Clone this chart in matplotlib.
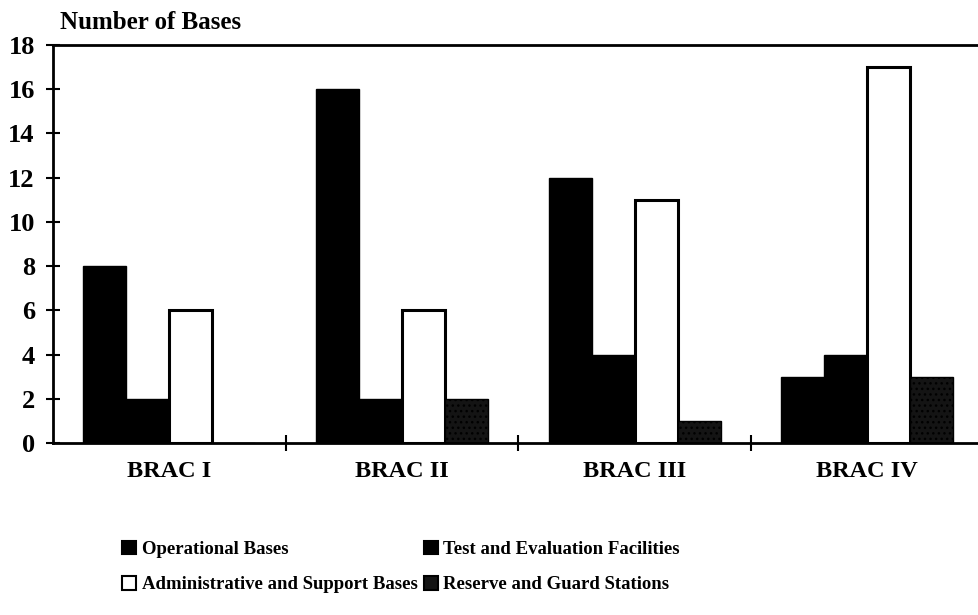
import numpy as np
import matplotlib.pyplot as plt
from matplotlib.patches import Patch

# data
rounds = ["BRAC I", "BRAC II", "BRAC III", "BRAC IV"]
operational = [8, 16, 12, 3]
test_eval = [2, 2, 4, 4]
admin_support = [6, 6, 11, 17]
reserve_guard = [0, 2, 1, 3]

series_names = ["Operational Bases", "Test and Evaluation Facilities",
                "Administrative and Support Bases", "Reserve and Guard Stations"]
yticks = [0, 2, 4, 6, 8, 10, 12, 14, 16, 18]

plt.rcParams['font.family'] = ['Liberation Serif', 'DejaVu Serif']
plt.rcParams['font.weight'] = 'bold'

fig = plt.figure(figsize=(9.79, 6.15), dpi=100)
ax = fig.add_axes([0.054, 0.2797, 0.946, 0.6471])

x = np.arange(len(rounds))
w = 0.185
styles = [
    dict(facecolor="black", edgecolor="black"),
    dict(facecolor="black", edgecolor="black"),
    dict(facecolor="white", edgecolor="black", linewidth=2.2),
    dict(facecolor="#141414", edgecolor="black", hatch="..."),
]
data = [operational, test_eval, admin_support, reserve_guard]
for i, (vals, st) in enumerate(zip(data, styles)):
    ax.bar(x + (i - 1.5) * w, vals, width=w, **st)

ax.set_xlim(-0.5, 3.48)
ax.set_ylim(0, 18)
ax.set_yticks(yticks)
ax.set_yticklabels([str(t) for t in yticks], fontsize=19, fontweight='bold')
ax.tick_params(axis='y', direction='inout', length=10, width=1.5, pad=8)

# group boundary ticks (major) and category labels (minor)
ax.set_xticks([0.5, 1.5, 2.5])
ax.set_xticklabels([])
ax.tick_params(axis='x', which='major', direction='inout', length=12, width=1.5)
ax.set_xticks(x, minor=True)
ax.set_xticklabels(rounds, minor=True, fontsize=17.5, fontweight='bold')
ax.tick_params(axis='x', which='minor', length=0, pad=13)

for s in ["left", "bottom", "top"]:
    ax.spines[s].set_linewidth(2)
ax.spines["right"].set_visible(False)

fig.text(0.061, 0.953, "Number of Bases", fontsize=18, fontweight='bold')

handles = [Patch(facecolor=st["facecolor"], edgecolor="black", linewidth=1.5)
           for st in styles]
# legend fills column by column; reorder so rows read op/test, admin/reserve
order = [0, 2, 1, 3]
fig.legend([handles[i] for i in order], [series_names[i] for i in order],
           ncol=2, loc="upper left", bbox_to_anchor=(0.125, 0.121),
           frameon=False, fontsize=13.5, handlelength=0.75, handleheight=0.75,
           handletextpad=0.3, columnspacing=0.3, labelspacing=0.95,
           borderaxespad=0, borderpad=0)

fig.savefig("out.png", dpi=100)
